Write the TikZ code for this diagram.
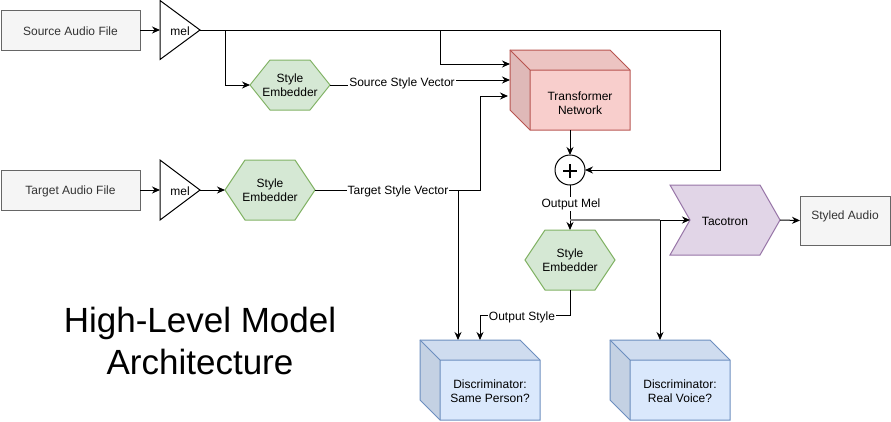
\documentclass[tikz,border=0pt]{standalone}
\usepackage{fontspec}
\setmainfont{Liberation Sans}
\usetikzlibrary{calc,arrows.meta}
\pgfdeclarelayer{bg}
\pgfsetlayers{bg,main}
\definecolor{grayfill}{HTML}{F5F5F5}
\definecolor{graystroke}{HTML}{666666}
\definecolor{graytext}{HTML}{333333}
\definecolor{greenfill}{HTML}{D5E8D4}
\definecolor{greenstroke}{HTML}{82B366}
\definecolor{redfill}{HTML}{F8CECC}
\definecolor{redtop}{HTML}{ECC4C2}
\definecolor{redleft}{HTML}{DFB9B8}
\definecolor{redstroke}{HTML}{B85450}
\definecolor{bluefill}{HTML}{DAE8FC}
\definecolor{bluetop}{HTML}{CFDCEF}
\definecolor{blueleft}{HTML}{C4D1E3}
\definecolor{bluestroke}{HTML}{6C8EBF}
\definecolor{purplefill}{HTML}{E1D5E7}
\definecolor{purplestroke}{HTML}{9673A6}
\definecolor{grayline}{HTML}{808080}

% hexagon drawn over the box of a node
\newcommand\hexshape[1]{%
  \path[draw=greenstroke, fill=greenfill, line width=1pt]
    (#1.west) -- ($(#1.north west)+(20,0)$) -- ($(#1.north east)+(-20,0)$)
    -- (#1.east) -- ($(#1.south east)+(-20,0)$) -- ($(#1.south west)+(20,0)$) -- cycle;}
% right-pointing triangle over the box of a node
\newcommand\triangleshape[1]{%
  \path[draw=black, fill=white, line width=1pt]
    (#1.north west) -- (#1.east) -- (#1.south west) -- cycle;}
% cube over the box of a node: name, front, top, left, stroke
\newcommand\cubeshape[5]{%
  \path[fill=#2] ($(#1.north west)+(20,20)$) rectangle (#1.south east);
  \path[fill=#3] (#1.north west) -- ($(#1.north east)+(-20,0)$) -- ($(#1.north east)+(0,20)$)
    -- ($(#1.north west)+(20,20)$) -- cycle;
  \path[fill=#4] (#1.north west) -- ($(#1.north west)+(20,20)$) -- ($(#1.south west)+(20,0)$)
    -- ($(#1.south west)+(0,-20)$) -- cycle;
  \draw[#5, line width=1pt] (#1.north west) -- ($(#1.north east)+(-20,0)$) -- ($(#1.north east)+(0,20)$)
    -- (#1.south east) -- ($(#1.south west)+(20,0)$) -- ($(#1.south west)+(0,-20)$) -- cycle;
  \draw[#5, line width=1pt] (#1.north west) -- ($(#1.north west)+(20,20)$) -- ($(#1.north east)+(0,20)$)
    ($(#1.north west)+(20,20)$) -- ($(#1.south west)+(20,0)$);}
% chevron
\newcommand\chevronshape[1]{%
  \path[draw=purplestroke, fill=purplefill, line width=1pt]
    (#1.north west) -- ($(#1.north east)+(-20,0)$) -- (#1.east) -- ($(#1.south east)+(-20,0)$)
    -- (#1.south west) -- ($(#1.west)+(20,0)$) -- cycle;}

\begin{document}
\begin{tikzpicture}[x=1pt, y=-1pt,
  font=\fontsize{12}{14.5}\selectfont,
  every node/.style={inner sep=0pt, outer sep=0pt, align=center},
  filebox/.style={rectangle, draw=graystroke, fill=grayfill, text=graytext, line width=1pt},
  conn/.style={line width=1pt, -{Stealth[length=8pt,width=7pt]}},
  plainline/.style={line width=1pt},
  edgelabel/.style={fill=white, inner sep=1pt},
]
\useasboundingbox (0,0) rectangle (891,421);

% ---- nodes ----
\node[filebox, minimum width=139, minimum height=40] (src) at (70.5,30) {\raisebox{-1.5pt}[\height][\depth]{Source Audio File}};
\node[filebox, minimum width=139, minimum height=40] (tgt) at (70.5,190) {\raisebox{-1.5pt}[\height][\depth]{Target Audio File}};
\node[minimum width=40, minimum height=59] (mel1) at (180,30) {\raisebox{-1.5pt}[\height][\depth]{mel}};
\node[minimum width=40, minimum height=60] (mel2) at (180,190) {\raisebox{-1.5pt}[\height][\depth]{mel}};
\node[minimum width=80, minimum height=50] (hex1) at (290,85) {Style\\Embedder};
\node[minimum width=90, minimum height=60] (hex2) at (270,190) {Style\\Embedder};
\node[minimum width=90, minimum height=60] (hex3) at (570,260) {Style\\Embedder};
\node[minimum width=120, minimum height=80] (tn) at (570,90) {};
\node (tnlabel) at (580,103) {Transformer\\Network};
\node[circle, draw, fill=white, minimum size=30, line width=1pt] (plus) at (570,170) {};
\node[minimum width=110, minimum height=70] (taco) at (725,220) {\raisebox{-1.5pt}[\height][\depth]{Tacotron}};
\node[filebox, minimum width=90, minimum height=49] (styled) at (845,220.5)
  {\raisebox{4pt}[\height][\depth]{Styled Audio}};
\node[minimum width=120, minimum height=80] (d1) at (480,380) {};
\node (d1label) at (490,391) {Discriminator:\\Same Person?};
\node[minimum width=120, minimum height=80] (d2) at (670,380) {};
\node (d2label) at (680,391) {Discriminator:\\Real Voice?};
\node[font=\fontsize{35}{42}\selectfont] (title) at (200,341) {High-Level Model\\Architecture};

% ---- shapes behind the texts ----
\begin{pgfonlayer}{bg}
  \triangleshape{mel1}
  \triangleshape{mel2}
  \hexshape{hex1}
  \hexshape{hex2}
  \hexshape{hex3}
  \cubeshape{tn}{redfill}{redtop}{redleft}{redstroke}
  \cubeshape{d1}{bluefill}{bluetop}{blueleft}{bluestroke}
  \cubeshape{d2}{bluefill}{bluetop}{blueleft}{bluestroke}
  \chevronshape{taco}
\end{pgfonlayer}

% plus sign
\draw[line width=2pt] ($(plus.center)+(-7,1)$) -- ($(plus.center)+(7,1)$)
  ($(plus.center)+(0,-6)$) -- ($(plus.center)+(0,8)$);

% ---- coordinates ----
\coordinate (tr) at (720,30);
\coordinate (b1) at (225,30);
\coordinate (b2) at (440,30);
\coordinate (tnin1) at ($(tn.north west)+(0,14)$);
\coordinate (tnin2) at ($(tn.north west)+(0,30)$);
\coordinate (tnin3) at ($(tn.north west)+(-2,46)$);
\coordinate (b3) at (458,190);
\coordinate (b4) at (570,220);
\coordinate (b5) at (660,220);
\coordinate (tacoin) at ($(taco.west)+(20,0)$);

% ---- connectors ----
\draw[conn] (src) -- (mel1);
\draw[conn] (tgt) -- (mel2);
\draw[conn] (mel2) -- (hex2);
\draw[conn] (mel1.east) -- (tr) |- (plus.east);
\draw[conn] (b1) |- (hex1.west);
\draw[conn] (b2) |- (tnin1);
\draw[conn] (hex1.east) -- (400,85) -- (400,80) -- (tnin2);
\node[edgelabel] (lsv) at (402,83) {Source Style Vector};
\draw[conn] (hex2.east) -- (480,190) -- (480,96) -- (tnin3);
\node[edgelabel] (ltv) at (398,191) {Target Style Vector};
\draw[conn] (b3) -- (b3 |- d1.north);
\draw[conn] (tn.south) -- (plus.north);
\draw[conn] (plus.south) -- (hex3.north);
\node[edgelabel] (lom) at (571,204) {Output Mel};
\draw[line width=1.5pt, grayline] (b4) -- (b5);
\draw[conn] (b5) -- (tacoin);
\draw[conn] (b5) -- (b5 |- d2.north);
\draw[conn] (taco.east) -- (styled.west);
\draw[conn] (hex3.south) -- ++(0,25) -| (d1.north);
\node[edgelabel] (los) at (522,317) {Output Style};
\end{tikzpicture}
\end{document}
